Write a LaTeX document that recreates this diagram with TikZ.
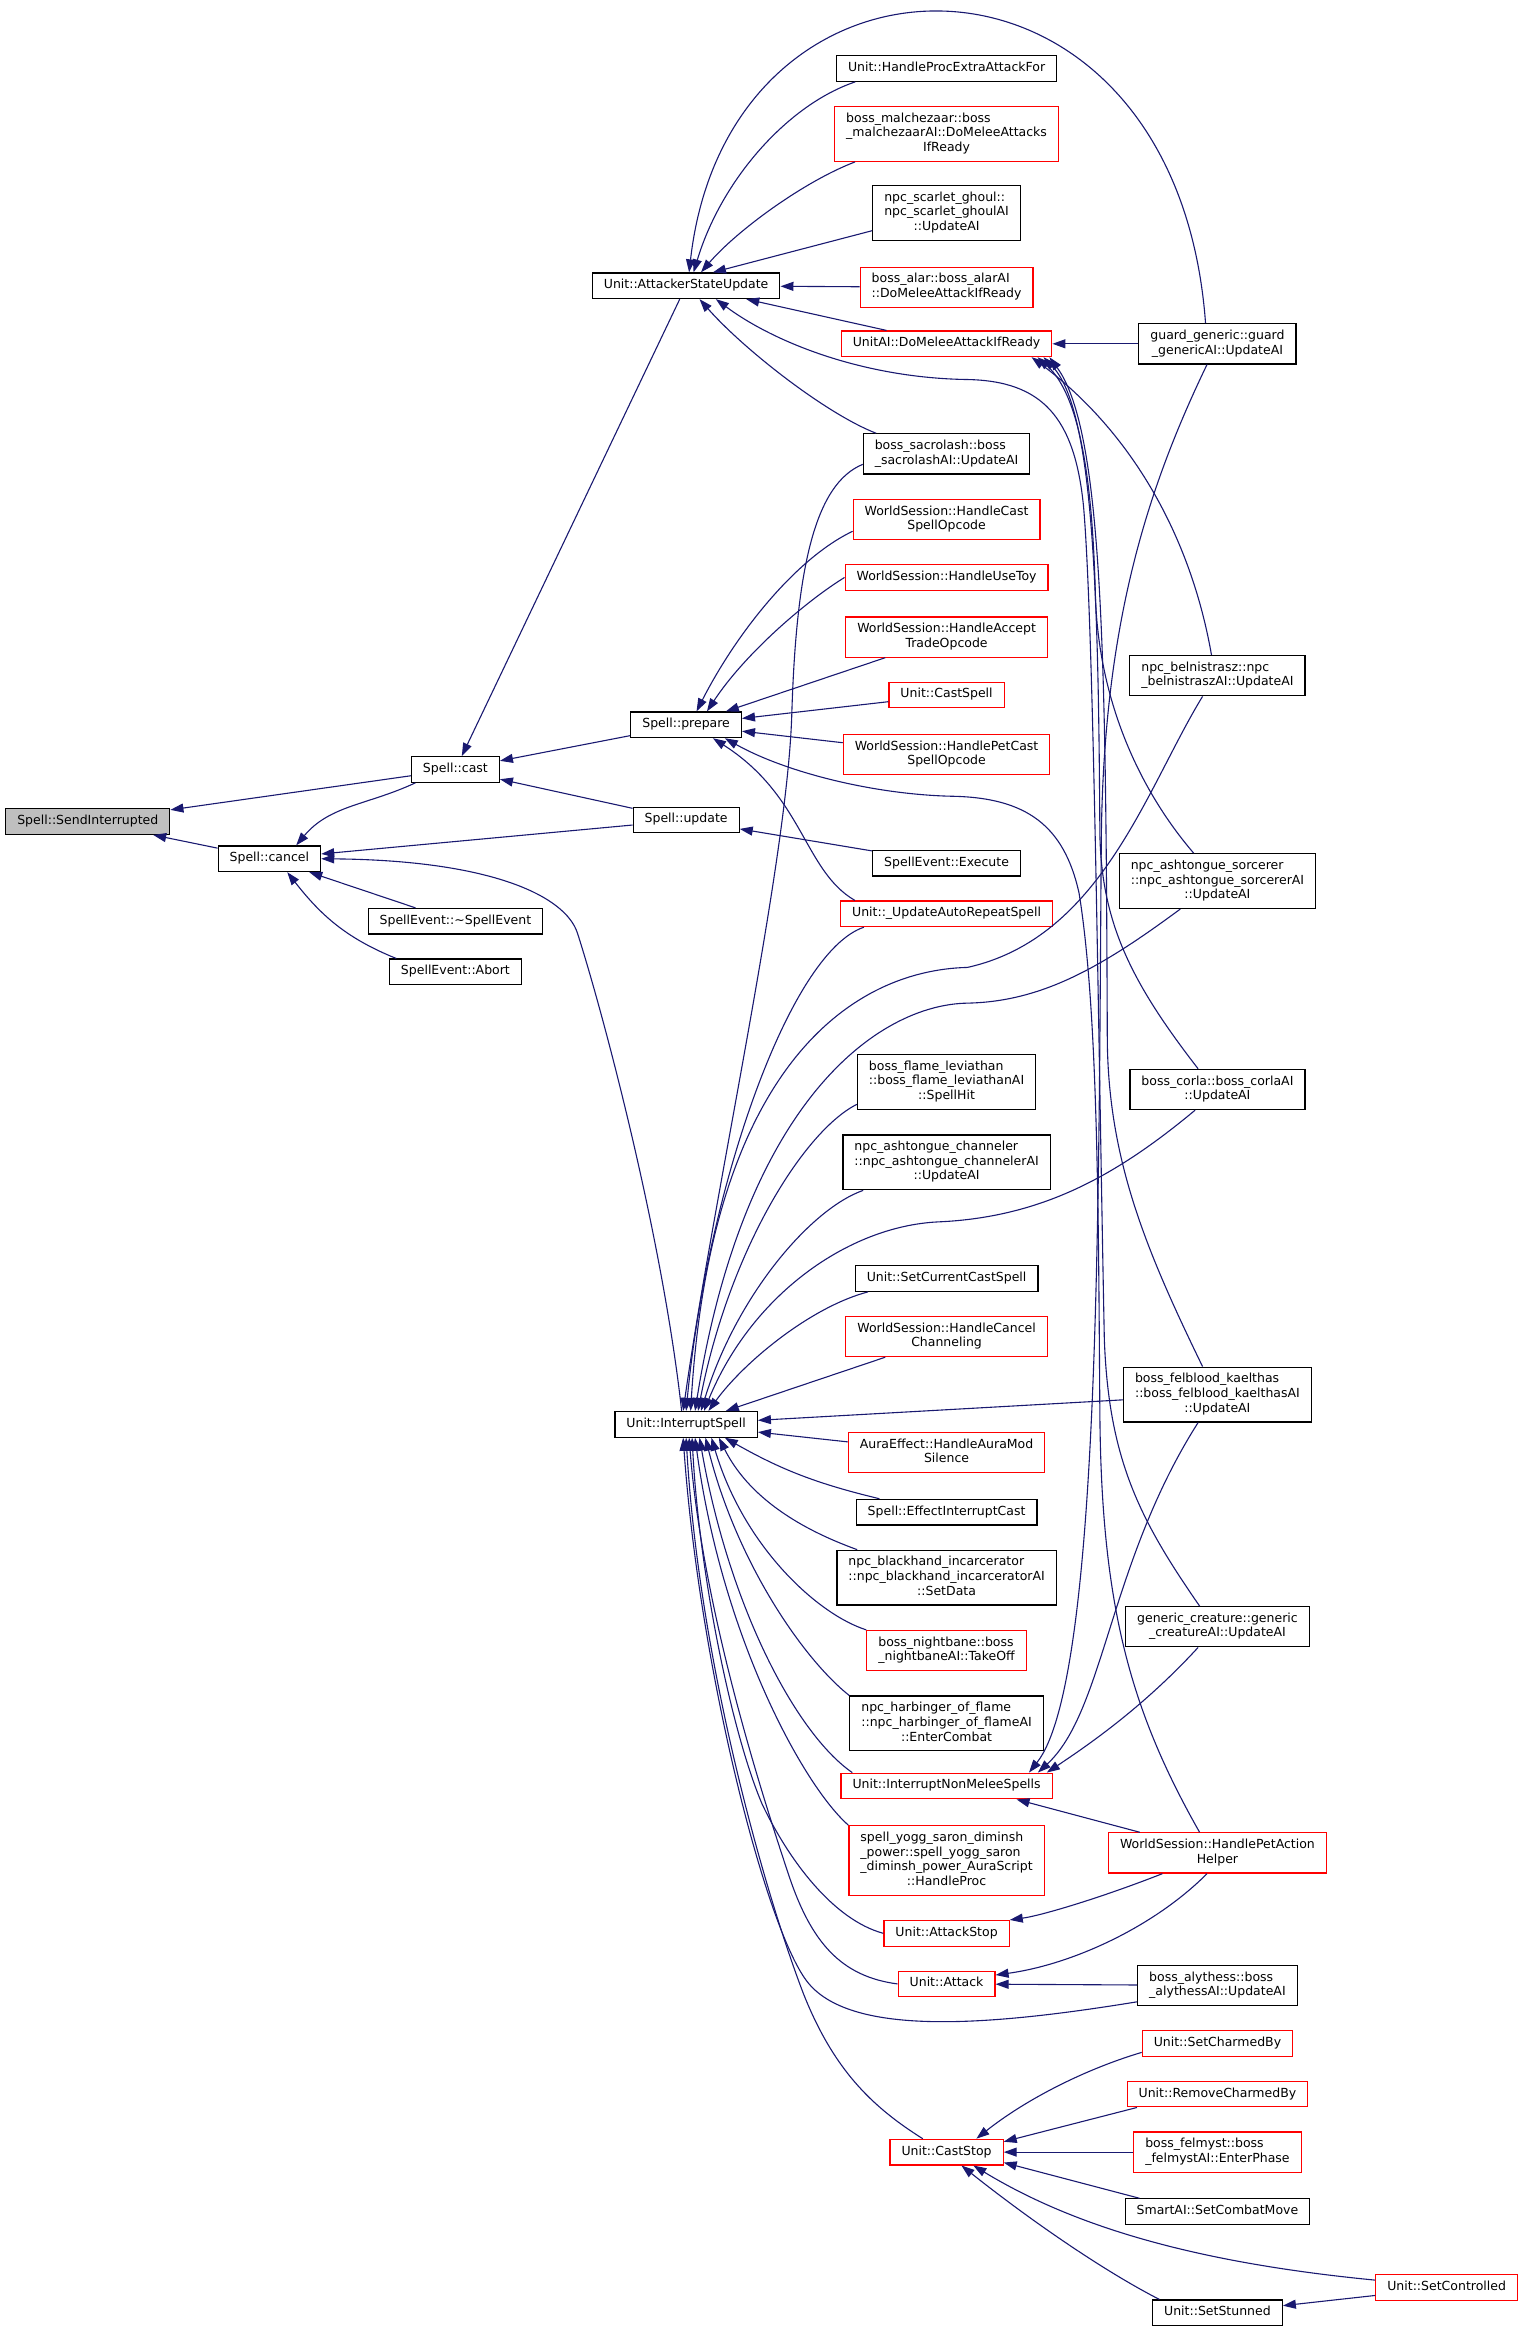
\documentclass[tikz,border=0pt]{standalone}
\usepackage{fontspec}
\setmainfont{DejaVu Sans}
\usepackage{xcolor}
\usepackage{tikz}
\usetikzlibrary{arrows.meta}
\definecolor{edgeblue}{HTML}{191970}
\definecolor{nodered}{HTML}{FF0000}
\definecolor{nodegrey}{HTML}{BFBFBF}
\newcommand{\fnlabel}[2]{\begin{tabular}{@{}l@{}}#1\\\multicolumn{1}{@{}c@{}}{#2}\end{tabular}}
\tikzset{
  fn/.style={draw=black, line width=1.2pt, inner xsep=11.5pt, inner ysep=5.5pt,
    font=\fontsize{12.5}{14.6}\selectfont, execute at begin node=\strut},
  trunc/.style={fn, draw=nodered},
  call/.style={draw=edgeblue, line width=1.1pt, -{Triangle[length=13pt,width=9pt]}}
}

\begin{document}
\begin{tikzpicture}[x=1.4883pt, y=1.4883pt]
    \useasboundingbox (0,0) rectangle (1024,-1566.2);

    \node[fn, fill=nodegrey] (si) at (59,-552) {Spell::SendInterrupted};
    \node[fn] (cancel) at (181,-577) {Spell::cancel};
    \node[fn] (cast) at (306,-517) {Spell::cast};
    \node[fn] (dtor) at (306,-619) {SpellEvent::\textasciitilde SpellEvent};
    \node[fn] (abort) at (306,-653) {SpellEvent::Abort};
    \node[fn] (asu) at (461,-192) {Unit::AttackerStateUpdate};
    \node[fn] (prepare) at (461,-487) {Spell::prepare};
    \node[fn] (update) at (461,-551) {Spell::update};
    \node[fn] (isp) at (461,-957) {Unit::InterruptSpell};

    \node[fn] (hpea) at (636,-46) {Unit::HandleProcExtraAttackFor};
    \node[trunc] (malch) at (636,-90) {\fnlabel{boss\_malchezaar::boss\\\_malchezaarAI::DoMeleeAttacks}{IfReady}};
    \node[fn] (ghoul) at (636,-143) {\fnlabel{npc\_scarlet\_ghoul::\\npc\_scarlet\_ghoulAI}{::UpdateAI}};
    \node[trunc] (alar) at (636,-193) {\fnlabel{boss\_alar::boss\_alarAI}{::DoMeleeAttackIfReady}};
    \node[trunc] (domelee) at (636,-231) {UnitAI::DoMeleeAttackIfReady};
    \node[fn] (sacro) at (636,-305) {\fnlabel{boss\_sacrolash::boss}{\_sacrolashAI::UpdateAI}};
    \node[trunc] (hcast) at (636,-349) {\fnlabel{WorldSession::HandleCast}{SpellOpcode}};
    \node[trunc] (toy) at (636,-388) {WorldSession::HandleUseToy};
    \node[trunc] (trade) at (636,-428) {\fnlabel{WorldSession::HandleAccept}{TradeOpcode}};
    \node[trunc] (castspell) at (636,-467) {Unit::CastSpell};
    \node[trunc] (petcast) at (636,-507) {\fnlabel{WorldSession::HandlePetCast}{SpellOpcode}};
    \node[fn] (execute) at (636,-580) {SpellEvent::Execute};
    \node[trunc] (autorep) at (636,-614) {Unit::\_UpdateAutoRepeatSpell};
    \node[fn] (levi) at (636,-727) {\fnlabel{boss\_flame\_leviathan\\::boss\_flame\_leviathanAI}{::SpellHit}};
    \node[fn] (chan) at (636,-781) {\fnlabel{npc\_ashtongue\_channeler\\::npc\_ashtongue\_channelerAI}{::UpdateAI}};
    \node[fn] (setcur) at (636,-859) {Unit::SetCurrentCastSpell};
    \node[trunc] (cancelch) at (636,-898) {\fnlabel{WorldSession::HandleCancel}{Channeling}};
    \node[trunc] (silence) at (636,-976) {\fnlabel{AuraEffect::HandleAuraMod}{Silence}};
    \node[fn] (effint) at (636,-1016) {Spell::EffectInterruptCast};
    \node[fn] (black) at (636,-1060) {\fnlabel{npc\_blackhand\_incarcerator\\::npc\_blackhand\_incarceratorAI}{::SetData}};
    \node[trunc] (night) at (636,-1109) {\fnlabel{boss\_nightbane::boss}{\_nightbaneAI::TakeOff}};
    \node[fn] (harb) at (636,-1158) {\fnlabel{npc\_harbinger\_of\_flame\\::npc\_harbinger\_of\_flameAI}{::EnterCombat}};
    \node[trunc] (inms) at (636,-1200) {Unit::InterruptNonMeleeSpells};
    \node[trunc] (yogg) at (636,-1250) {\fnlabel{spell\_yogg\_saron\_diminsh\\\_power::spell\_yogg\_saron\\\_diminsh\_power\_AuraScript}{::HandleProc}};
    \node[trunc] (astop) at (636,-1299) {Unit::AttackStop};
    \node[trunc] (attack) at (636,-1333) {Unit::Attack};
    \node[trunc] (caststop) at (636,-1446) {Unit::CastStop};

    \node[fn] (guard) at (818,-231) {\fnlabel{guard\_generic::guard}{\_genericAI::UpdateAI}};
    \node[fn] (beln) at (818,-454) {\fnlabel{npc\_belnistrasz::npc}{\_belnistraszAI::UpdateAI}};
    \node[fn] (sorc) at (818,-592) {\fnlabel{npc\_ashtongue\_sorcerer\\::npc\_ashtongue\_sorcererAI}{::UpdateAI}};
    \node[fn] (corla) at (818,-732) {\fnlabel{boss\_corla::boss\_corlaAI}{::UpdateAI}};
    \node[fn] (felb) at (818,-937) {\fnlabel{boss\_felblood\_kaelthas\\::boss\_felblood\_kaelthasAI}{::UpdateAI}};
    \node[fn] (gencr) at (818,-1093) {\fnlabel{generic\_creature::generic}{\_creatureAI::UpdateAI}};
    \node[trunc] (petact) at (818,-1245) {\fnlabel{WorldSession::HandlePetAction}{Helper}};
    \node[fn] (alyth) at (818,-1334) {\fnlabel{boss\_alythess::boss}{\_alythessAI::UpdateAI}};
    \node[trunc] (charm) at (818,-1373) {Unit::SetCharmedBy};
    \node[trunc] (rmcharm) at (818,-1407) {Unit::RemoveCharmedBy};
    \node[trunc] (felmyst) at (818,-1446) {\fnlabel{boss\_felmyst::boss}{\_felmystAI::EnterPhase}};
    \node[fn] (combat) at (818,-1486) {SmartAI::SetCombatMove};
    \node[fn] (stun) at (818,-1554) {Unit::SetStunned};
    \node[trunc] (ctrl) at (972,-1537) {Unit::SetControlled};

    \draw[call] (cast) -- (si);
    \draw[call] (cancel) -- (si);
    \draw[call] ([shift={(3,0)}]cast.south west) to[out=205,in=50] ([shift={(18,0)}]cancel.north);
    \draw[call] (update) -- (cancel);
    \draw[call] (dtor) -- (cancel);
    \draw[call] ([shift={(5,0)}]abort.north west) to[out=158,in=-52] ([shift={(12,0)}]cancel.south);
    \draw[call] ([shift={(-3,0)}]isp.north) .. controls (445,-830) and (405,-680) .. (388,-627)
        .. controls (380,-602) and (330,-578) .. (cancel.east);

    \draw[call] (asu) -- (cast);
    \draw[call] (prepare) -- (cast);
    \draw[call] (update) -- (cast);

    \draw[call] ([shift={(0,-8)}]hcast.west) .. controls (535,-375) and (495,-425) .. ([shift={(7,0)}]prepare.north);
    \draw[call] (toy.west) .. controls (540,-405) and (500,-440) .. ([shift={(14,0)}]prepare.north);
    \draw[call] (trade) -- (prepare);
    \draw[call] (castspell) -- (prepare);
    \draw[call] (petcast) -- (prepare);
    \draw[call] ([shift={(10,0)}]autorep.north west) .. controls (540,-585) and (540,-535) .. ([shift={(18,0)}]prepare.south);
    \draw[call] ([shift={(-12,0)}]petact.north) .. controls (760,-1150) and (740,-1080) .. (739,-950)
        .. controls (738,-820) and (738,-680) .. (725,-600)
        .. controls (715,-555) and (690,-536) .. (640,-535)
        .. controls (590,-534) and (530,-520) .. ([shift={(26,0)}]prepare.south);
    \draw[call] (execute) -- (update);

    \draw[call] ([shift={(13,0)}]hpea.south west) .. controls (530,-70) and (485,-120) .. ([shift={(5,0)}]asu.north);
    \draw[call] ([shift={(14,0)}]malch.south west) .. controls (540,-122) and (495,-155) .. ([shift={(10,0)}]asu.north);
    \draw[call] ([shift={(0,-12)}]ghoul.west) -- ([shift={(18,0)}]asu.north);
    \draw[call] (alar) -- (asu);
    \draw[call] (domelee) -- (asu);
    \draw[call] ([shift={(9,0)}]sacro.north west) .. controls (555,-278) and (500,-235) .. ([shift={(9,0)}]asu.south);
    \draw[call] ([shift={(-8,0)}]guard.north) .. controls (790,55) and (490,55) .. ([shift={(2,0)}]asu.north);
    \draw[call] ([shift={(-12,0)}]gencr.north) .. controls (765,-1020) and (745,-980) .. (742,-900)
        .. controls (738,-700) and (735,-420) .. (728,-340)
        .. controls (722,-280) and (700,-256) .. (650,-255)
        .. controls (580,-254) and (520,-230) .. ([shift={(20,0)}]asu.south);

    \draw[call] (guard) -- (domelee);
    \draw[call] ([shift={(-4,0)}]beln.north) .. controls (800,-360) and (760,-290) .. ([shift={(-14,0)}]domelee.south east);
    \draw[call] ([shift={(-16,0)}]sorc.north) .. controls (765,-530) and (738,-470) .. (736,-400)
        .. controls (734,-320) and (725,-265) .. ([shift={(-10,0)}]domelee.south east);
    \draw[call] ([shift={(-13,0)}]corla.north) .. controls (760,-660) and (740,-620) .. (739,-560)
        .. controls (738,-400) and (735,-275) .. ([shift={(-6,0)}]domelee.south east);
    \draw[call] ([shift={(-10,0)}]felb.north) .. controls (770,-840) and (745,-780) .. (744,-700)
        .. controls (743,-450) and (742,-290) .. ([shift={(-2,0)}]domelee.south east);

    \draw[call] ([shift={(0,-7)}]sacro.west) .. controls (548,-325) and (535,-380) .. (532,-480)
        .. controls (529,-580) and (480,-800) .. ([shift={(-2,0)}]isp.north);
    \draw[call] ([shift={(16,0)}]autorep.south west) .. controls (530,-640) and (475,-800) .. (isp.north);
    \draw[call] ([shift={(-10,0)}]beln.south) .. controls (770,-530) and (740,-630) .. (650,-650)
        .. controls (570,-652) and (478,-720) .. ([shift={(3,0)}]isp.north);
    \draw[call] ([shift={(-25,0)}]sorc.south) .. controls (740,-650) and (700,-673) .. (650,-674)
        .. controls (590,-675) and (500,-740) .. ([shift={(6,0)}]isp.north);
    \draw[call] ([shift={(0,-15)}]levi.west) .. controls (540,-760) and (490,-840) .. ([shift={(8,0)}]isp.north);
    \draw[call] ([shift={(14,0)}]chan.south west) .. controls (545,-812) and (495,-870) .. ([shift={(10,0)}]isp.north);
    \draw[call] ([shift={(-15,0)}]corla.south) .. controls (750,-790) and (700,-818) .. (630,-821)
        .. controls (570,-824) and (505,-870) .. ([shift={(12,0)}]isp.north);
    \draw[call] ([shift={(9,0)}]setcur.south west) .. controls (545,-878) and (500,-915) .. ([shift={(15,0)}]isp.north);
    \draw[call] (cancelch) -- (isp);
    \draw[call] (felb) -- (isp);
    \draw[call] (silence) -- (isp);
    \draw[call] ([shift={(16,0)}]effint.north west) to[bend left=8] ([shift={(26,0)}]isp.south);
    \draw[call] ([shift={(14,0)}]black.north west) .. controls (545,-1030) and (505,-1010) .. ([shift={(22,0)}]isp.south);
    \draw[call] (night.north west) .. controls (550,-1085) and (500,-1040) .. ([shift={(17,0)}]isp.south);
    \draw[call] (harb.north west) .. controls (540,-1115) and (495,-1050) .. ([shift={(13,0)}]isp.south);
    \draw[call] ([shift={(8,0)}]inms.north west) .. controls (535,-1165) and (490,-1080) .. ([shift={(9,0)}]isp.south);
    \draw[call] (yogg.north west) .. controls (540,-1200) and (485,-1100) .. ([shift={(6,0)}]isp.south);
    \draw[call] (astop.west) .. controls (560,-1290) and (530,-1250) .. (512,-1212)
        .. controls (492,-1165) and (470,-1060) .. ([shift={(4,0)}]isp.south);
    \draw[call] (attack.west) .. controls (565,-1328) and (545,-1305) .. (530,-1260)
        .. controls (510,-1200) and (472,-1080) .. ([shift={(2,0)}]isp.south);
    \draw[call] ([shift={(-16,0)}]caststop.north) .. controls (585,-1415) and (560,-1390) .. (540,-1340)
        .. controls (515,-1275) and (470,-1120) .. (isp.south);
    \draw[call] ([shift={(0,-11)}]alyth.west) .. controls (660,-1362) and (570,-1368) .. (542,-1331)
        .. controls (514,-1294) and (470,-1120) .. ([shift={(-2,0)}]isp.south);

    \draw[call] ([shift={(-7,0)}]guard.south) .. controls (770,-330) and (742,-420) .. (740,-560)
        .. controls (738,-800) and (740,-1130) .. ([shift={(-16,0)}]inms.north east);
    \draw[call] ([shift={(-13,0)}]felb.south) .. controls (745,-1050) and (742,-1150) .. ([shift={(-10,0)}]inms.north east);
    \draw[call] ([shift={(-13,0)}]gencr.south) .. controls (770,-1145) and (735,-1170) .. ([shift={(-4,0)}]inms.north east);
    \draw[call] (petact) -- ([shift={(47,0)}]inms.south);
    \draw[call] ([shift={(-37,0)}]petact.south) .. controls (740,-1275) and (700,-1287) .. (astop.north east);
    \draw[call] ([shift={(-7,0)}]petact.south) .. controls (775,-1295) and (720,-1320) .. ([shift={(0,6)}]attack.east);
    \draw[call] (alyth) -- (attack);

    \draw[call] ([shift={(0,-6)}]charm.west) .. controls (730,-1390) and (690,-1410) .. ([shift={(20,0)}]caststop.north);
    \draw[call] ([shift={(7,0)}]rmcharm.south west) -- ([shift={(0,7)}]caststop.east);
    \draw[call] (felmyst) -- (caststop);
    \draw[call] ([shift={(10,0)}]combat.north west) -- ([shift={(0,-7)}]caststop.east);
    \draw[call] ([shift={(0,5)}]ctrl.west) .. controls (800,-1520) and (720,-1495) .. ([shift={(18,0)}]caststop.south);
    \draw[call] ([shift={(5,0)}]stun.north west) .. controls (740,-1525) and (690,-1490) .. ([shift={(10,0)}]caststop.south);
    \draw[call] (ctrl) -- (stun);
\end{tikzpicture}
\end{document}
